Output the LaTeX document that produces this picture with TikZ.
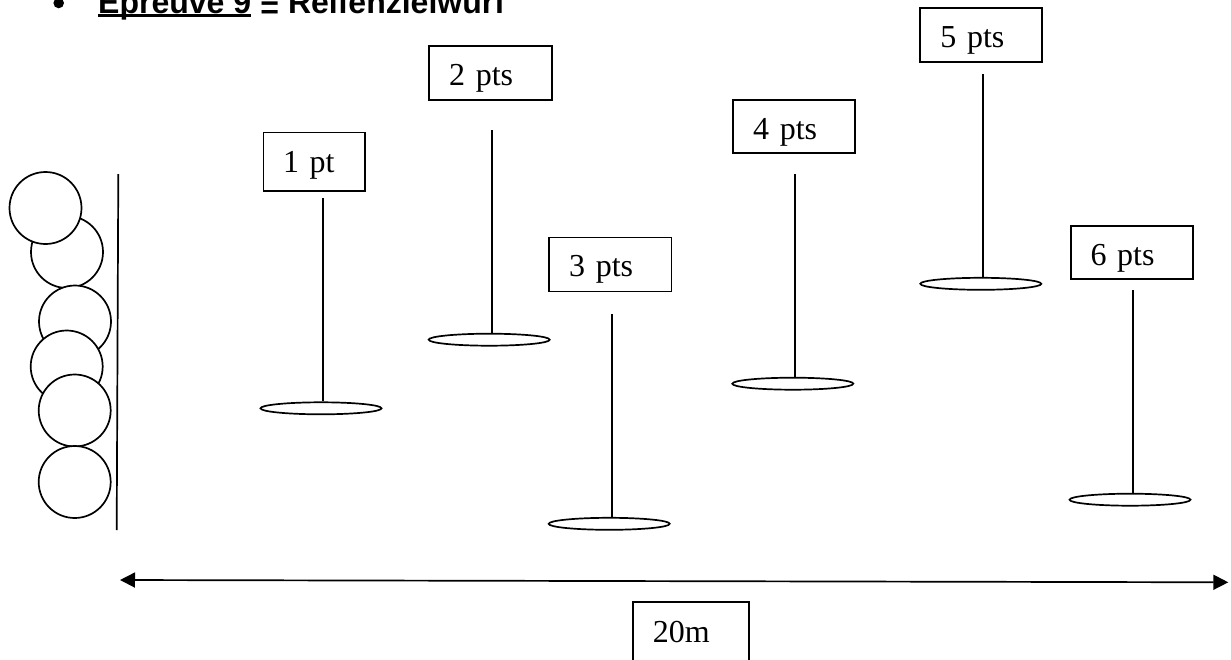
\documentclass[tikz,border=0pt]{standalone}
\usepackage{fontspec}
\setmainfont{Liberation Serif}
\newfontfamily\arialfont{Liberation Sans}
\usetikzlibrary{shapes.geometric,arrows.meta}
\tikzset{
  thin line/.style={line width=1.7pt},
  big text/.style={font=\fontsize{32}{38}\selectfont},
  title text/.style={font=\arialfont\bfseries\fontsize{32}{38}\selectfont},
  sign/.style n args={4}{draw, thin line, big text, anchor=north west, inner xsep=#1, inner ysep=0pt,
     text width=#2, text height=#3, text depth=#4, align=left},
  hoop/.style={draw, thin line, circle, fill=white, minimum size=72pt, inner sep=0pt},
  base/.style={draw, thin line, ellipse, minimum width=121pt, minimum height=12pt, inner sep=0pt},
  pole/.style={line width=2pt},
  dimline/.style={thin line, {Triangle[length=15pt,width=15pt]}-{Triangle[length=15pt,width=15pt]}}
}
\begin{document}
\begin{tikzpicture}[x=1pt,y=-1pt]
\useasboundingbox (0,0) rectangle (1231,659);
% title
\node[circle, fill=black, inner sep=0pt, minimum size=10.6pt] (bullet) at (58.7,3) {};
\node[anchor=base west, inner sep=0pt, title text] (t1) at (98,13) {Epreuve 9};
\node[anchor=base west, inner sep=0pt, title text, xshift=8.9pt] (t2) at (t1.base east) {\raisebox{-5pt}{=} Reifenzielwurf};
\draw[line width=2.6pt] ([yshift=-2.6pt]t1.base west) -- ([yshift=-2.6pt]t1.base east);
% hoops
\node[hoop] (c2) at (67,252) {};
\node[hoop] (c1) at (45.5,208) {};
\node[hoop] (c3) at (75,321.5) {};
\node[hoop] (c4) at (66.7,366.5) {};
\node[hoop] (c5) at (74.7,410.5) {};
\node[hoop] (c6) at (74.7,482) {};
% throwing line
\coordinate (lt) at (118.3,174);
\coordinate (lb) at (116.7,530);
\draw[thin line] (lt) -- (lb);
% signs
\node[sign={19.5pt}{62.6pt}{40pt}{18.3pt}] (s1) at (262.7,131.7) {1 pt};
\node[sign={20pt}{82.7pt}{40pt}{14.3pt}] (s2) at (428.3,45) {2 pts};
\node[sign={20pt}{82.4pt}{39.3pt}{14.7pt}] (s3) at (548.3,236.7) {3 pts};
\node[sign={20pt}{82pt}{39.3pt}{14pt}] (s4) at (732.3,99) {4 pts};
\node[sign={20.5pt}{81pt}{39.4pt}{14.3pt}] (s5) at (919,7.3) {5 pts};
\node[sign={19.7pt}{82.9pt}{40pt}{13.3pt}] (s6) at (1070,225) {6 pts};
% bases
\node[base] (e1) at (321,408.3) {};
\node[base] (e2) at (489.2,339.7) {};
\node[base] (e3) at (609.2,523.8) {};
\node[base] (e4) at (792.8,383.7) {};
\node[base] (e5) at (980.8,283.8) {};
\node[base] (e6) at (1130,499.7) {};
% poles
\coordinate (p1) at (323,198);
\coordinate (p2) at (492,130);
\coordinate (p3) at (612,314.3);
\coordinate (p4) at (795,174.3);
\coordinate (p5) at (983,74);
\coordinate (p6) at (1133,290);
\foreach \i in {1,...,6}{\draw[pole] (p\i) -- (p\i |- e\i.north);}
% distance arrow
\coordinate (aL) at (120,580);
\coordinate (aR) at (1228.3,582.3);
\draw[dimline] (aL) -- (aR);
\node[sign={20pt}{76pt}{41pt}{30pt}] (dist) at (632,601) {20m};
\end{tikzpicture}
\end{document}
